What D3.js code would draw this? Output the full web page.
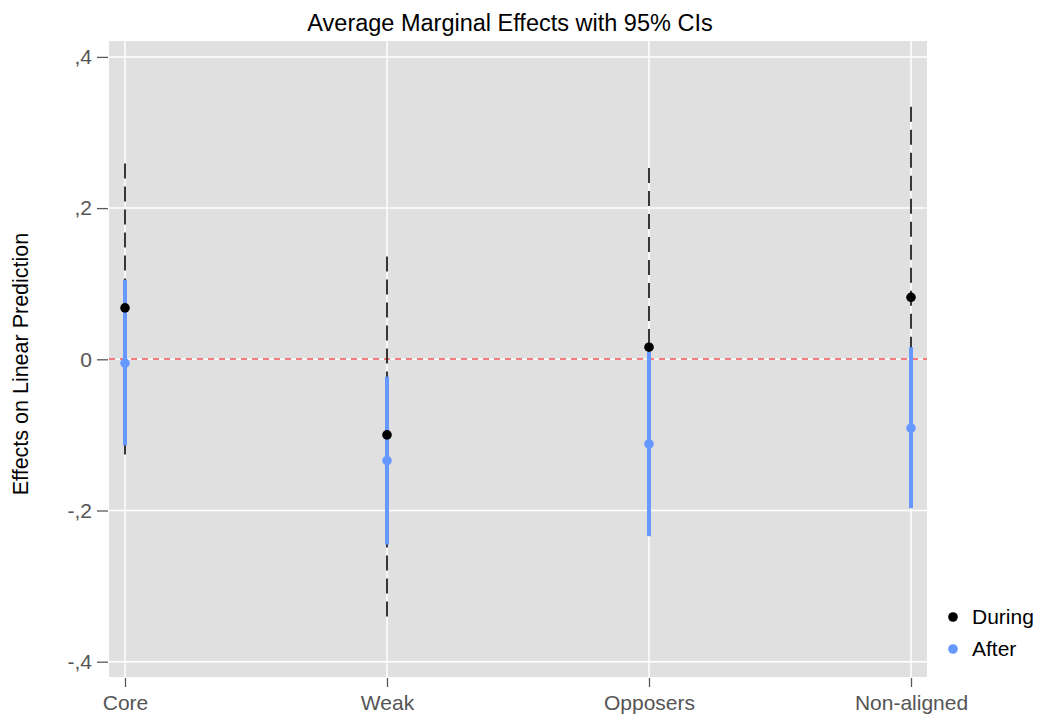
<html>
<head>
<script src="https://d3js.org/d3.v7.min.js"></script>
<style>
  body { margin: 0; background: #fff; }
  text { font-family: "Liberation Sans", Arial, sans-serif; }
</style>
</head>
<body>
<svg id="chart" width="1040" height="716"></svg>
<script>
// data
var groups = ["Core", "Weak", "Opposers", "Non-aligned"];
var duringEst = [0.068, -0.100, 0.016, 0.082];
var duringLo  = [-0.129, -0.342, -0.22, -0.17];
var duringHi  = [0.259, 0.136, 0.253, 0.334];
var afterEst  = [-0.005, -0.134, -0.112, -0.091];
var afterLo   = [-0.114, -0.245, -0.234, -0.197];
var afterHi   = [0.105, -0.023, 0.010, 0.016];
var yTicks = [-0.4, -0.2, 0, 0.2, 0.4];
var yTickLabels = ["-,4", "-,2", "0", ",2", ",4"];
var seriesNames = ["During", "After"];
var seriesColors = ["#000000", "#6699ff"];

var svg = d3.select("#chart");
var panel = {left: 109, right: 927, top: 41, bottom: 677};

var x = d3.scalePoint()
  .domain(groups)
  .range([125, 911]);

var y = d3.scaleLinear()
  .domain([-0.4, 0.4])
  .range([661.7, 56.9]);

// grey panel
svg.append("rect")
  .attr("x", panel.left).attr("y", panel.top)
  .attr("width", panel.right - panel.left)
  .attr("height", panel.bottom - panel.top)
  .attr("fill", "#e0e0e0");

// grid lines
svg.selectAll(".hgrid").data(yTicks).enter().append("line")
  .attr("x1", panel.left).attr("x2", panel.right)
  .attr("y1", function(d){ return y(d); }).attr("y2", function(d){ return y(d); })
  .attr("stroke", "#fff").attr("stroke-width", 1.5);
svg.selectAll(".vgrid").data(groups).enter().append("line")
  .attr("y1", panel.top).attr("y2", panel.bottom)
  .attr("x1", function(d){ return x(d); }).attr("x2", function(d){ return x(d); })
  .attr("stroke", "#fff").attr("stroke-width", 1.5);

// y axis
var yAxis = d3.axisLeft(y)
  .tickValues(yTicks)
  .tickSize(11)
  .tickPadding(5)
  .tickFormat(function(d, i){ return yTickLabels[i]; });
var gy = svg.append("g").attr("transform", "translate(" + (panel.left - 1) + ",0)").call(yAxis);
gy.select(".domain").remove();
gy.selectAll(".tick line").attr("stroke", "#595959").attr("stroke-width", 1.3);
gy.selectAll(".tick text").attr("fill", "#555").style("font-size", "21px")
  .style("font-family", "Liberation Sans, Arial, sans-serif");

// x axis
var xAxis = d3.axisBottom(x).tickSize(9).tickPadding(8);
var gx = svg.append("g").attr("transform", "translate(0," + (panel.bottom + 1) + ")").call(xAxis);
gx.select(".domain").remove();
gx.selectAll(".tick line").attr("stroke", "#595959").attr("stroke-width", 1.3);
gx.selectAll(".tick text").attr("fill", "#555").style("font-size", "21px")
  .style("font-family", "Liberation Sans, Arial, sans-serif");

// zero reference line
svg.append("line")
  .attr("x1", panel.left).attr("x2", panel.right)
  .attr("y1", Math.round(y(0))).attr("y2", Math.round(y(0)))
  .attr("stroke", "#f47c7c").attr("stroke-width", 2)
  .attr("stroke-dasharray", "6,5");

// During CIs (dashed black)
svg.selectAll(".ciDuring").data(groups).enter().append("line")
  .attr("x1", function(d){ return x(d); }).attr("x2", function(d){ return x(d); })
  .attr("y1", function(d, i){ return y(duringHi[i]); })
  .attr("y2", function(d, i){ return y(duringLo[i]); })
  .attr("stroke", "#222").attr("stroke-width", 1.8)
  .attr("stroke-dasharray", "15,8");

// After CIs (solid blue)
svg.selectAll(".ciAfter").data(groups).enter().append("line")
  .attr("x1", function(d){ return x(d); }).attr("x2", function(d){ return x(d); })
  .attr("y1", function(d, i){ return y(afterHi[i]); })
  .attr("y2", function(d, i){ return y(afterLo[i]); })
  .attr("stroke", seriesColors[1]).attr("stroke-width", 4);

// points
svg.selectAll(".ptDuring").data(groups).enter().append("circle")
  .attr("cx", function(d){ return x(d); })
  .attr("cy", function(d, i){ return y(duringEst[i]); })
  .attr("r", 4.8).attr("fill", seriesColors[0]);
svg.selectAll(".ptAfter").data(groups).enter().append("circle")
  .attr("cx", function(d){ return x(d); })
  .attr("cy", function(d, i){ return y(afterEst[i]); })
  .attr("r", 4.8).attr("fill", seriesColors[1]);

// title
svg.append("text")
  .attr("x", 510).attr("y", 31)
  .attr("text-anchor", "middle")
  .style("font-size", "23.5px")
  .attr("fill", "#000")
  .text("Average Marginal Effects with 95% CIs");

// y label
svg.append("text")
  .attr("transform", "translate(28,364) rotate(-90)")
  .attr("text-anchor", "middle")
  .style("font-size", "21.5px")
  .attr("fill", "#000")
  .text("Effects on Linear Prediction");

// legend
var leg = svg.selectAll(".leg").data(seriesNames).enter().append("g")
  .attr("transform", function(d, i){ return "translate(953," + (617 + i * 32) + ")"; });
leg.append("circle").attr("r", 4.8).attr("fill", function(d, i){ return seriesColors[i]; });
leg.append("text")
  .attr("x", 19).attr("y", 0)
  .attr("dy", "0.35em")
  .style("font-size", "21px")
  .attr("fill", "#000")
  .text(function(d){ return d; });
</script>
</body>
</html>
